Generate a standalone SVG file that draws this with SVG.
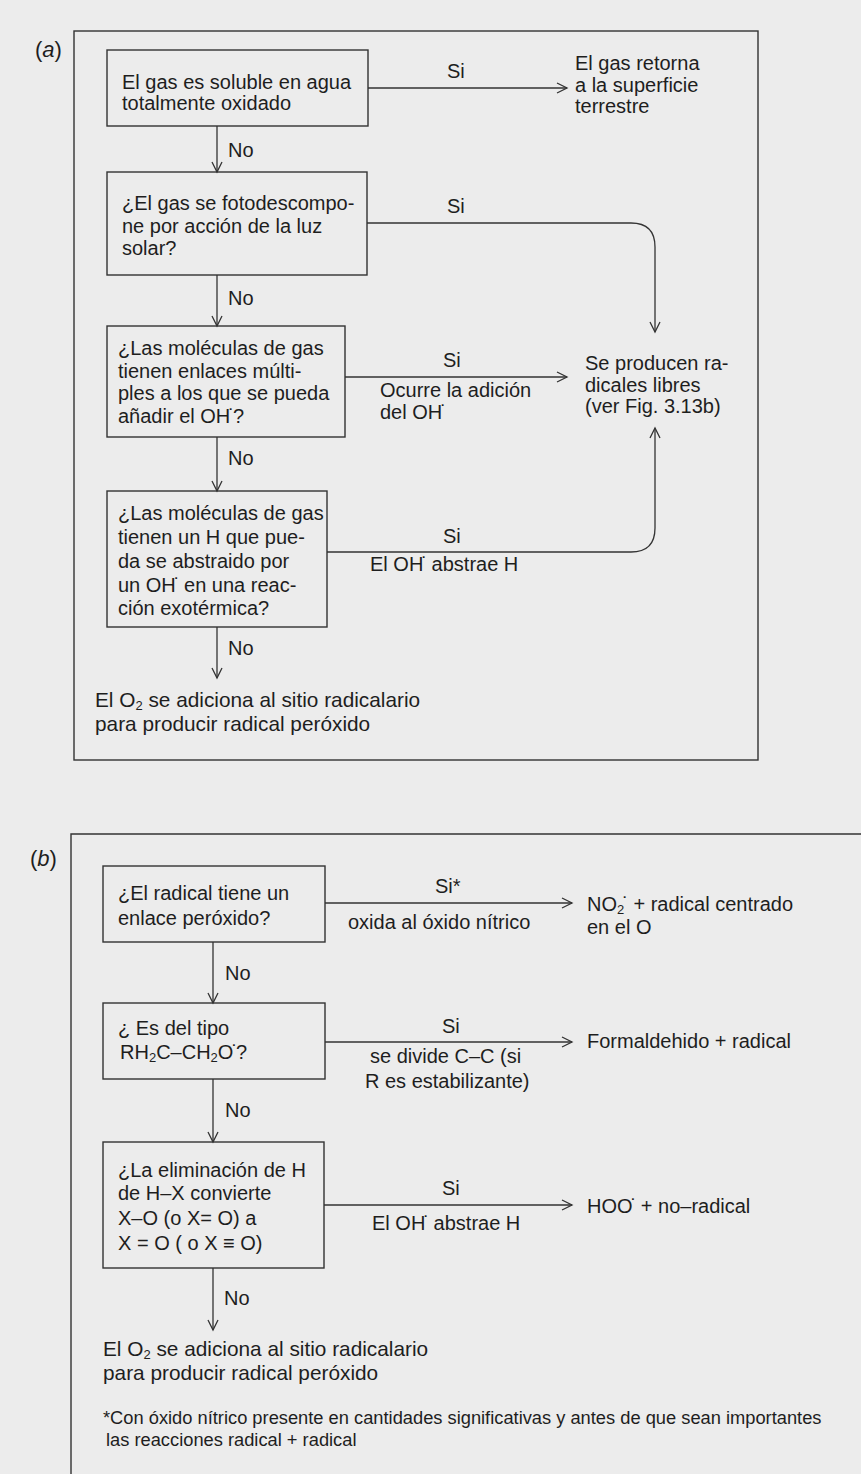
<svg xmlns="http://www.w3.org/2000/svg" width="861" height="1474" viewBox="0 0 861 1474">
<style>
text{font-family:"Liberation Sans",Arial,sans-serif;font-size:20px;fill:#1e1e1e}
.box{fill:none;stroke:#333;stroke-width:1.4}
.frame{fill:none;stroke:#333;stroke-width:1.4}
.c{fill:none;stroke:#333;stroke-width:1.3}
.lbl{font-size:22px}
.end{font-size:20.8px}
.fn{font-size:18.3px}
.s{font-size:13px}
</style>
<defs>
<marker id="ah" markerUnits="userSpaceOnUse" markerWidth="14" markerHeight="14" refX="11" refY="6" orient="auto">
<path d="M1,1 L11,6 L1,11" fill="none" stroke="#333" stroke-width="1.3"/>
</marker>
</defs>
<rect x="0" y="0" width="861" height="1474" fill="#ececec"/>

<!-- Panel (a) -->
<g id="panel-a">
<rect class="frame" x="74" y="31" width="684" height="729"/>
<text class="lbl" x="35" y="57">(<tspan font-style="italic">a</tspan>)</text>
</g>

<g id="a-q1">
<rect class="box" x="107" y="50" width="261" height="76"/>
<text x="122" y="89">El gas es soluble en agua</text>
<text x="122" y="110">totalmente oxidado</text>
</g>
<g id="a-r1">
<text x="575" y="70">El gas retorna</text>
<text x="575" y="92">a la superficie</text>
<text x="575" y="113">terrestre</text>
</g>
<g id="a-q2">
<rect class="box" x="107" y="172" width="260" height="103"/>
<text x="122" y="210">¿El gas se fotodescompo-</text>
<text x="122" y="233">ne por acción de la luz</text>
<text x="122" y="255">solar?</text>
</g>
<g id="a-r2">
<text x="585" y="370">Se producen ra-</text>
<text x="585" y="392">dicales libres</text>
<text x="585" y="413">(ver Fig. 3.13b)</text>
</g>
<g id="a-q3">
<rect class="box" x="107" y="326" width="238" height="111"/>
<text x="118" y="355">¿Las moléculas de gas</text>
<text x="118" y="378">tienen enlaces múlti-</text>
<text x="118" y="400">ples a los que se pueda</text>
<text x="118" y="423">añadir el OH<tspan dx="-2">˙</tspan><tspan dx="-2">?</tspan></text>
</g>
<g id="a-q4">
<rect class="box" x="107" y="491" width="220" height="136"/>
<text x="118" y="520">¿Las moléculas de gas</text>
<text x="118" y="544">tienen un H que pue-</text>
<text x="118" y="568">da se abstraido por</text>
<text x="118" y="592">un OH<tspan dx="-2">˙</tspan><tspan dx="-2"> en una reac-</tspan></text>
<text x="118" y="615">ción exotérmica?</text>
</g>
<g id="a-end">
<text class="end" x="95" y="707">El O<tspan class="s" dy="3">2</tspan><tspan dy="-3"> se adiciona al sitio radicalario</tspan></text>
<text class="end" x="95" y="731">para producir radical peróxido</text>
</g>

<!-- Panel (b) -->
<g id="panel-b">
<path class="frame" d="M71,1474 L71,834 L861,834"/>
<text class="lbl" x="30" y="866">(<tspan font-style="italic">b</tspan>)</text>
</g>
<g id="b-q1">
<rect class="box" x="103" y="866" width="222" height="76"/>
<text x="118" y="900">¿El radical tiene un</text>
<text x="118" y="925">enlace peróxido?</text>
</g>
<g id="b-r1">
<text x="587" y="911">NO<tspan class="s" dy="3">2</tspan><tspan dx="-2" dy="-3">˙</tspan><tspan dx="-1"> + radical centrado</tspan></text>
<text x="587" y="934">en el O</text>
</g>
<g id="b-q2">
<rect class="box" x="103" y="1003" width="222" height="76"/>
<text x="118" y="1035">¿ Es del tipo</text>
<text x="120" y="1059">RH<tspan class="s" dy="3">2</tspan><tspan dy="-3">C–CH</tspan><tspan class="s" dy="3">2</tspan><tspan dy="-3">O</tspan><tspan dx="-2">˙</tspan><tspan dx="-2">?</tspan></text>
</g>
<g id="b-r2">
<text x="587" y="1048">Formaldehido + radical</text>
</g>
<g id="b-q3">
<rect class="box" x="103" y="1142" width="221" height="126"/>
<text x="118" y="1177">¿La eliminación de H</text>
<text x="118" y="1200">de H–X convierte</text>
<text x="118" y="1225">X–O (o X= O) a</text>
<text x="118" y="1250">X = O ( o X ≡ O)</text>
</g>
<g id="b-r3">
<text x="587" y="1213">HOO<tspan dx="-2">˙</tspan><tspan dx="-2"> + no–radical</tspan></text>
</g>
<g id="b-end">
<text class="end" x="103" y="1356">El O<tspan class="s" dy="3">2</tspan><tspan dy="-3"> se adiciona al sitio radicalario</tspan></text>
<text class="end" x="103" y="1380">para producir radical peróxido</text>
</g>
<g id="footnote">
<text class="fn" x="103" y="1424">*Con óxido nítrico presente en cantidades significativas y antes de que sean importantes</text>
<text class="fn" x="106" y="1446">las reacciones radical + radical</text>
</g>

<!-- Connectors -->
<g id="connectors">
<path class="c" d="M368,88 L567,88" marker-end="url(#ah)"/>
<path class="c" d="M217,126 L217,172" marker-end="url(#ah)"/>
<path class="c" d="M367,223 L631,223 Q655,223 655,247 L655,332" marker-end="url(#ah)"/>
<path class="c" d="M217,275 L217,326" marker-end="url(#ah)"/>
<path class="c" d="M345,377 L567,377" marker-end="url(#ah)"/>
<path class="c" d="M217,437 L217,491" marker-end="url(#ah)"/>
<path class="c" d="M327,552 L631,552 Q655,552 655,528 L655,428" marker-end="url(#ah)"/>
<path class="c" d="M217,627 L217,678" marker-end="url(#ah)"/>
<path class="c" d="M325,903 L572,903" marker-end="url(#ah)"/>
<path class="c" d="M213,942 L213,1003" marker-end="url(#ah)"/>
<path class="c" d="M325,1042 L572,1042" marker-end="url(#ah)"/>
<path class="c" d="M213,1079 L213,1142" marker-end="url(#ah)"/>
<path class="c" d="M324,1205 L572,1205" marker-end="url(#ah)"/>
<path class="c" d="M213,1268 L213,1330" marker-end="url(#ah)"/>
</g>
<g id="connector-labels">
<text x="447" y="78">Si</text>
<text x="228" y="157">No</text>
<text x="447" y="213">Si</text>
<text x="228" y="305">No</text>
<text x="443" y="367">Si</text>
<text x="380" y="397">Ocurre la adición</text>
<text x="380" y="419">del OH<tspan dx="-2">˙</tspan></text>
<text x="228" y="465">No</text>
<text x="443" y="543">Si</text>
<text x="370" y="571">El OH<tspan dx="-2">˙</tspan><tspan dx="-2"> abstrae H</tspan></text>
<text x="228" y="655">No</text>
<text x="435" y="893">Si*</text>
<text x="348" y="929">oxida al óxido nítrico</text>
<text x="225" y="980">No</text>
<text x="442" y="1033">Si</text>
<text x="370" y="1063">se divide C–C (si</text>
<text x="365" y="1088">R es estabilizante)</text>
<text x="225" y="1117">No</text>
<text x="442" y="1195">Si</text>
<text x="372" y="1230">El OH<tspan dx="-2">˙</tspan><tspan dx="-2"> abstrae H</tspan></text>
<text x="224" y="1305">No</text>
</g>
</svg>
